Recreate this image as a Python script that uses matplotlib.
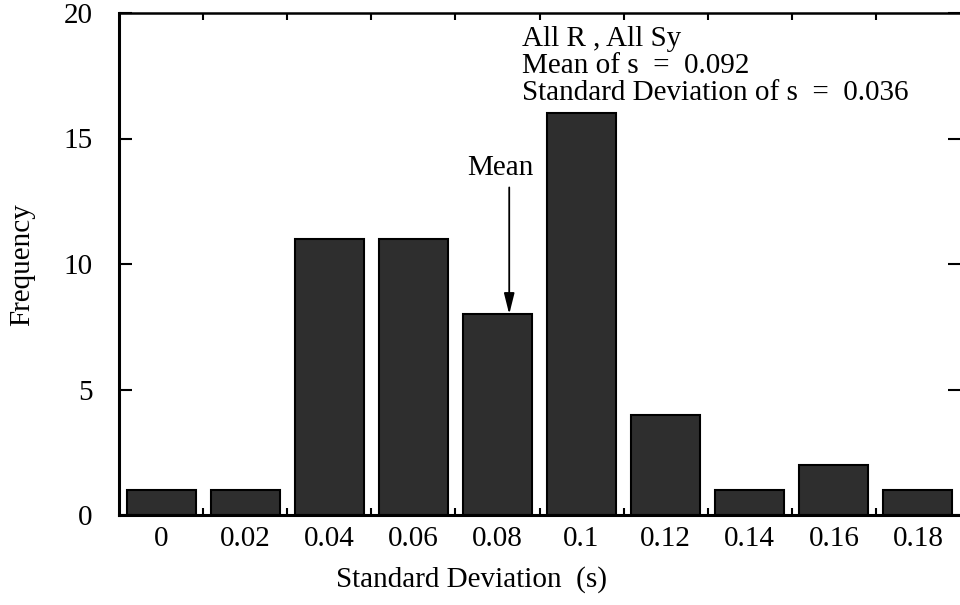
import numpy as np
import matplotlib
matplotlib.use("Agg")
import matplotlib.pyplot as plt
from matplotlib.ticker import FixedLocator

# histogram of the standard deviation s
bin_labels = ['0', '0.02', '0.04', '0.06', '0.08', '0.1', '0.12', '0.14', '0.16', '0.18']
frequency = [1, 1, 11, 11, 8, 16, 4, 1, 2, 1]
y_ticks = [0, 5, 10, 15, 20]

info_lines = ['All R , All Sy',
              'Mean of s  =  0.092',
              'Standard Deviation of s  =  0.036']
mean_pos = 4.14   # where the "Mean" arrow sits on the bin axis

plt.rcParams['font.family'] = ['Liberation Serif', 'DejaVu Serif']
plt.rcParams['font.size'] = 21

fig = plt.figure(figsize=(9.6, 6.05), dpi=100)
ax = fig.add_axes([119 / 960, 90 / 605, 841 / 960, 502 / 605])

x = np.arange(len(frequency))
ax.bar(x, frequency, width=0.82, color='#2e2e2e', edgecolor='black', linewidth=1.5)

ax.set_xlim(-0.5, len(frequency) - 0.5)
ax.set_ylim(0, 20)

# labels under bar centres, small tick marks on the bin boundaries
ax.set_xticks(x)
ax.set_xticklabels(bin_labels)
ax.xaxis.set_minor_locator(FixedLocator(x[:-1] + 0.5))
ax.tick_params(axis='x', which='major', length=0, pad=8)
ax.tick_params(axis='x', which='minor', direction='in', length=5, width=1.5,
               top=True, bottom=True)

ax.set_yticks(y_ticks)
ax.tick_params(axis='y', which='major', direction='in', length=9, width=1.5,
               pad=19, right=True)

for side in ['left', 'bottom']:
    ax.spines[side].set_linewidth(2.2)
ax.spines['top'].set_linewidth(1.8)
ax.spines['right'].set_visible(False)

ax.set_xlabel('Standard Deviation  (s)', ha='center', va='center')
ax.xaxis.set_label_coords(0.4186, -0.129)
ax.set_ylabel('Frequency', ha='center', va='center')
ax.yaxis.set_label_coords(-0.115, 0.498)

ax.text(0.479, 0.975, '\n'.join(info_lines), transform=ax.transAxes,
        ha='left', va='top', linespacing=1.05)

ax.text(mean_pos - 0.1, 13.3, 'Mean', ha='center', va='bottom')
ax.annotate('', xy=(mean_pos, frequency[4]), xytext=(mean_pos, 13.05),
            arrowprops=dict(arrowstyle='-|>,head_length=0.6,head_width=0.15',
                            color='black', lw=1.3, shrinkA=0, shrinkB=0))

fig.savefig('out.png', dpi=100)
